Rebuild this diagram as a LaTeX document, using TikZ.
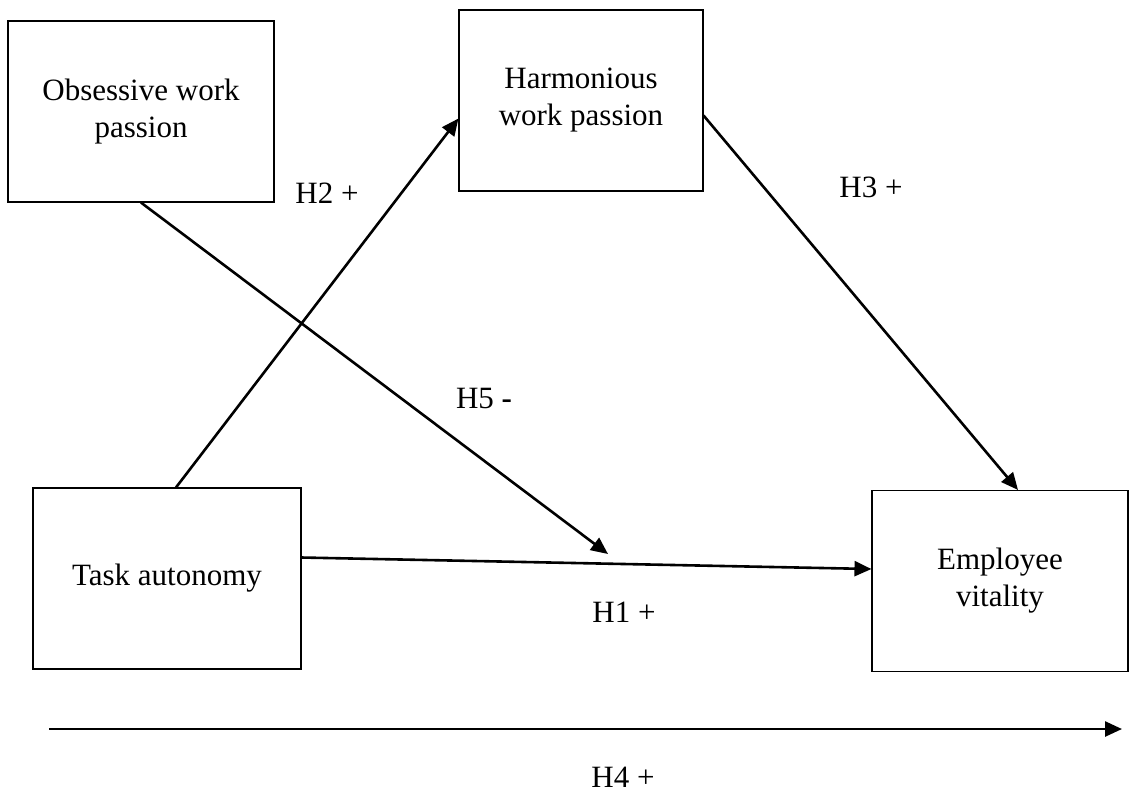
\documentclass[tikz,border=0pt]{standalone}
\usepackage{fontspec}
\setmainfont{Liberation Serif}
\usetikzlibrary{arrows.meta}

\begin{document}
\begin{tikzpicture}[
  x=1pt, y=-1pt,
  construct/.style={draw, line width=1.1pt, minimum width=266pt, minimum height=181pt, align=center, inner sep=0pt, font=\fontsize{31}{37}\selectfont},
  link/.style={line width=2.6pt, -{Triangle[length=17pt, width=15pt]}},
  hyp/.style={font=\fontsize{31}{37}\selectfont}
]
\useasboundingbox (0,0) rectangle (1129,796);

% constructs
\node[construct] (obs) at (141,111.5) {Obsessive work\\passion};
\node[construct, minimum width=244pt] (harm) at (581,100.5) {Harmonious\\work passion};
\node[construct, minimum width=268pt] (task) at (167,578.5) {Task autonomy};
\node[construct, minimum width=256pt] (vit) at (1000,581) {Employee\\vitality};

% free ends
\coordinate (h5tip) at (608,554);
\coordinate (h4start) at (49,729);
\coordinate (h4end) at (1122,729);

% paths
\draw[link] ([xshift=9pt]task.north) -- ([yshift=-18pt]harm.west);
\draw[link] ([yshift=-15pt]harm.east) -- ([xshift=18pt]vit.north);
\draw[link] ([yshift=21pt]task.east) -- ([yshift=12pt]vit.west);
\draw[link] (obs.south) -- (h5tip);
\draw[link] (h4start) -- (h4end);

% hypotheses
\node[hyp] (h2) at (327,193) {H2 +};
\node[hyp] (h3) at (871,187) {H3 +};
\node[hyp] (h5) at (484,398) {H5 \textbf{-}};
\node[hyp] (h1) at (624,612) {H1 +};
\node[hyp] (h4) at (623,777) {H4 +};

\end{tikzpicture}
\end{document}
